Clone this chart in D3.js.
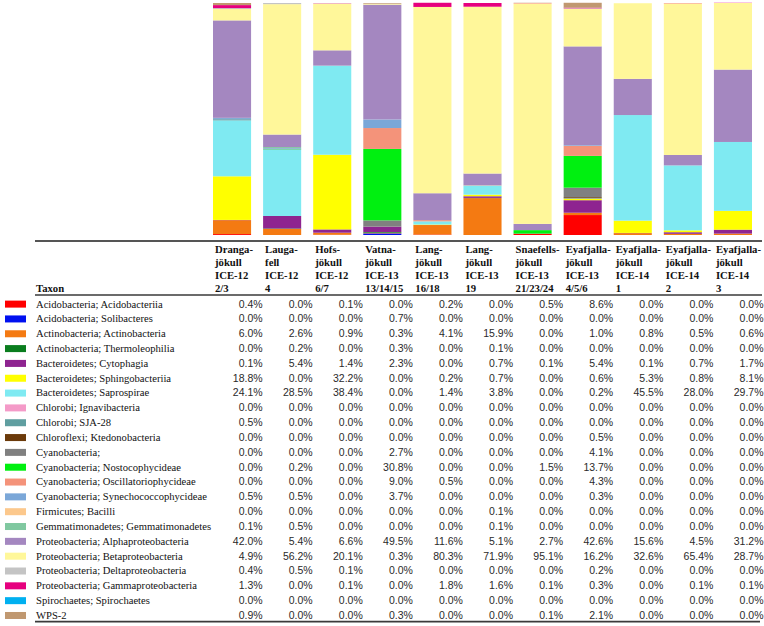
<!DOCTYPE html>
<html>
<head>
<meta charset="utf-8">
<script src="https://cdn.jsdelivr.net/npm/d3@7"></script>
<style>
  html, body { margin: 0; padding: 0; background: #fff; }
  svg { display: block; }
</style>
</head>
<body>
<svg id="chart" width="764" height="626"></svg>
<script>
// ---- Data ----
const sampleNames = ["Dranga 2/3", "Laugafell 4", "Hofs 6/7", "Vatna 13/14/15", "Lang 16/18", "Lang 19",
  "Snaefells 21/23/24", "Eyafjalla 4/5/6", "Eyafjalla 14-1", "Eyafjalla 14-2", "Eyafjalla 14-3"];

const headerLine1 = ["Dranga-", "Lauga-", "Hofs-", "Vatna-", "Lang-", "Lang-", "Snaefells-", "Eyafjalla-", "Eyafjalla-", "Eyafjalla-", "Eyafjalla-"];
const headerLine2 = ["jökull", "fell", "jökull", "jökull", "jökull", "jökull", "jökull", "jökull", "jökull", "jökull", "jökull"];
const headerLine3 = ["ICE-12", "ICE-12", "ICE-12", "ICE-13", "ICE-13", "ICE-13", "ICE-13", "ICE-13", "ICE-14", "ICE-14", "ICE-14"];
const headerLine4 = ["2/3", "4", "6/7", "13/14/15", "16/18", "19", "21/23/24", "4/5/6", "1", "2", "3"];

const taxa = [
  "Acidobacteria; Acidobacteriia",
  "Acidobacteria; Solibacteres",
  "Actinobacteria; Actinobacteria",
  "Actinobacteria; Thermoleophilia",
  "Bacteroidetes; Cytophagia",
  "Bacteroidetes; Sphingobacteriia",
  "Bacteroidetes; Saprospirae",
  "Chlorobi; Ignavibacteria",
  "Chlorobi; SJA-28",
  "Chloroflexi; Ktedonobacteria",
  "Cyanobacteria;",
  "Cyanobacteria; Nostocophycideae",
  "Cyanobacteria; Oscillatoriophycideae",
  "Cyanobacteria; Synechococcophycideae",
  "Firmicutes; Bacilli",
  "Gemmatimonadetes; Gemmatimonadetes",
  "Proteobacteria; Alphaproteobacteria",
  "Proteobacteria; Betaproteobacteria",
  "Proteobacteria; Deltaproteobacteria",
  "Proteobacteria; Gammaproteobacteria",
  "Spirochaetes; Spirochaetes",
  "WPS-2"
];

const taxonColors = [
  "#ff0000", "#0010f0", "#f47a12", "#0a7d1e", "#8e2490", "#ffff00", "#7feaf2",
  "#f49ac8", "#5f9ea0", "#6b3a0a", "#808080", "#00f010", "#f4937a", "#7ba7d8",
  "#fcc88c", "#80c8a0", "#a487c0", "#fff79a", "#c4c4c4", "#e6007e", "#00b0f0", "#c09870"
];

// percentages, one array per taxon, in sample order
const vAcidobacteriia   = [0.4, 0.0, 0.1, 0.0, 0.2, 0.0, 0.5, 8.6, 0.0, 0.0, 0.0];
const vSolibacteres     = [0.0, 0.0, 0.0, 0.7, 0.0, 0.0, 0.0, 0.0, 0.0, 0.0, 0.0];
const vActinobacteria   = [6.0, 2.6, 0.9, 0.3, 4.1, 15.9, 0.0, 1.0, 0.8, 0.5, 0.6];
const vThermoleophilia  = [0.0, 0.2, 0.0, 0.3, 0.0, 0.1, 0.0, 0.0, 0.0, 0.0, 0.0];
const vCytophagia       = [0.1, 5.4, 1.4, 2.3, 0.0, 0.7, 0.1, 5.4, 0.1, 0.7, 1.7];
const vSphingobacteriia = [18.8, 0.0, 32.2, 0.0, 0.2, 0.7, 0.0, 0.6, 5.3, 0.8, 8.1];
const vSaprospirae      = [24.1, 28.5, 38.4, 0.0, 1.4, 3.8, 0.0, 0.2, 45.5, 28.0, 29.7];
const vIgnavibacteria   = [0.0, 0.0, 0.0, 0.0, 0.0, 0.0, 0.0, 0.0, 0.0, 0.0, 0.0];
const vSJA28            = [0.5, 0.0, 0.0, 0.0, 0.0, 0.0, 0.0, 0.0, 0.0, 0.0, 0.0];
const vKtedonobacteria  = [0.0, 0.0, 0.0, 0.0, 0.0, 0.0, 0.0, 0.5, 0.0, 0.0, 0.0];
const vCyanobacteria    = [0.0, 0.0, 0.0, 2.7, 0.0, 0.0, 0.0, 4.1, 0.0, 0.0, 0.0];
const vNostocophycideae = [0.0, 0.2, 0.0, 30.8, 0.0, 0.0, 1.5, 13.7, 0.0, 0.0, 0.0];
const vOscillatorio     = [0.0, 0.0, 0.0, 9.0, 0.5, 0.0, 0.0, 4.3, 0.0, 0.0, 0.0];
const vSynechococco     = [0.5, 0.5, 0.0, 3.7, 0.0, 0.0, 0.0, 0.3, 0.0, 0.0, 0.0];
const vBacilli          = [0.0, 0.0, 0.0, 0.0, 0.0, 0.1, 0.0, 0.0, 0.0, 0.0, 0.0];
const vGemmatimonadetes = [0.1, 0.5, 0.0, 0.0, 0.0, 0.1, 0.0, 0.0, 0.0, 0.0, 0.0];
const vAlpha            = [42.0, 5.4, 6.6, 49.5, 11.6, 5.1, 2.7, 42.6, 15.6, 4.5, 31.2];
const vBeta             = [4.9, 56.2, 20.1, 0.3, 80.3, 71.9, 95.1, 16.2, 32.6, 65.4, 28.7];
const vDelta            = [0.4, 0.5, 0.1, 0.0, 0.0, 0.0, 0.0, 0.2, 0.0, 0.0, 0.0];
const vGamma            = [1.3, 0.0, 0.1, 0.0, 1.8, 1.6, 0.1, 0.3, 0.0, 0.1, 0.1];
const vSpirochaetes     = [0.0, 0.0, 0.0, 0.0, 0.0, 0.0, 0.0, 0.0, 0.0, 0.0, 0.0];
const vWPS2             = [0.9, 0.0, 0.0, 0.3, 0.0, 0.0, 0.1, 2.1, 0.0, 0.0, 0.0];

const values = [vAcidobacteriia, vSolibacteres, vActinobacteria, vThermoleophilia, vCytophagia,
  vSphingobacteriia, vSaprospirae, vIgnavibacteria, vSJA28, vKtedonobacteria, vCyanobacteria,
  vNostocophycideae, vOscillatorio, vSynechococco, vBacilli, vGemmatimonadetes, vAlpha, vBeta,
  vDelta, vGamma, vSpirochaetes, vWPS2];

// ---- Build table for stacking ----
const rows = sampleNames.map((s, j) => {
  const r = { sample: s };
  taxa.forEach((t, i) => { r[t] = values[i][j]; });
  return r;
});

const svg = d3.select("#chart");

const x = d3.scaleBand().domain(sampleNames).range([208, 757]).paddingInner(0.24).paddingOuter(0.1);
const y = d3.scaleLinear().domain([0, 100]).range([235, 3]);
const color = d3.scaleOrdinal().domain(taxa).range(taxonColors);

const stack = d3.stack().keys(taxa)(rows);

svg.append("g").selectAll("g").data(stack).join("g")
  .attr("fill", d => color(d.key))
  .selectAll("rect").data(d => d).join("rect")
  .attr("x", d => x(d.data.sample))
  .attr("width", x.bandwidth())
  .attr("y", d => y(d[1]))
  .attr("height", d => Math.max(0, y(d[0]) - y(d[1])));

// ---- Table ----
const rowY = d3.scaleBand().domain(taxa).range([296.5, 622.7]);
const serif = "'Liberation Serif', 'Times New Roman', serif";
const sans = "'Liberation Sans', Arial, sans-serif";

const lineColor = "#3a3a3a";
svg.append("line").attr("x1", 35).attr("x2", 762).attr("y1", 241).attr("y2", 241)
  .attr("stroke", "#555").attr("stroke-width", 2);
svg.append("line").attr("x1", 35).attr("x2", 762).attr("y1", 295).attr("y2", 295)
  .attr("stroke", lineColor).attr("stroke-width", 1.6);
svg.append("line").attr("x1", 35).attr("x2", 760).attr("y1", 621.7).attr("y2", 621.7)
  .attr("stroke", lineColor).attr("stroke-width", 1.8);

// header
const headerLines = [headerLine1, headerLine2, headerLine3, headerLine4];
const headerBase = [252.7, 266, 279, 291.7];
headerLines.forEach((arr, k) => {
  svg.append("g").selectAll("text").data(sampleNames).join("text")
    .attr("x", d => x(d) + 2)
    .attr("y", headerBase[k])
    .attr("font-family", serif)
    .attr("font-weight", "bold")
    .attr("font-size", 10.7)
    .attr("fill", "#111")
    .text((d, j) => arr[j]);
});
svg.append("text").attr("x", 36).attr("y", 291.7)
  .attr("font-family", serif).attr("font-weight", "bold").attr("font-size", 10.7)
  .attr("fill", "#111").text("Taxon");

// legend swatches + taxon names
const rowG = svg.append("g").selectAll("g").data(taxa).join("g")
  .attr("transform", d => `translate(0,${rowY(d) + rowY.bandwidth() / 2})`);
rowG.append("rect").attr("x", 5).attr("y", -3.3).attr("width", 21).attr("height", 7)
  .attr("fill", d => color(d));
rowG.append("text").attr("x", 36).attr("y", 3.6)
  .attr("font-family", serif).attr("font-size", 10.6).attr("fill", "#111")
  .text(d => d);

// values
rowG.each(function(t, i) {
  d3.select(this).selectAll("text.v").data(sampleNames).join("text")
    .attr("class", "v")
    .attr("x", d => x(d) + x.bandwidth() + 11.5)
    .attr("y", 3.6)
    .attr("text-anchor", "end")
    .attr("font-family", sans)
    .attr("font-size", 10.5)
    .attr("fill", "#2a2a2a")
    .text((d, j) => values[i][j].toFixed(1) + "%");
});
</script>
</body>
</html>
